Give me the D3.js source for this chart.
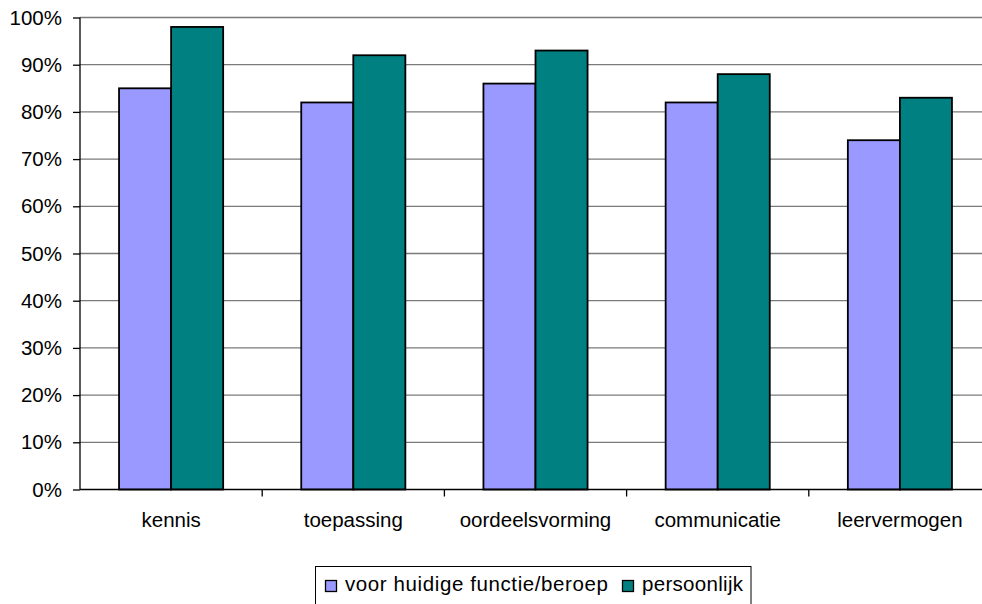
<!DOCTYPE html>
<html><head><meta charset="utf-8">
<script src="https://cdn.jsdelivr.net/npm/d3@7"></script>
<style>body{margin:0;background:#fff}svg{display:block}text{font-family:"Liberation Sans",Arial,sans-serif}</style>
</head><body>
<svg id="c" width="982" height="604"></svg>
<script>
const categories = ["kennis","toepassing","oordeelsvorming","communicatie","leervermogen"];
const seriesNames = ["voor huidige functie/beroep","persoonlijk"];
const huidig = [85,82,86,82,74];
const persoonlijk = [98,92,93,88,83];
const yTicks = [0,10,20,30,40,50,60,70,80,90,100];
const colors = ["#9999FF","#008080"];

(function(){
const FS = 20.5;
const svg = d3.select("#c");
const pLeft = 80, pRight = 991, pTop = 17.5, pBottom = 489.5;
const x = d3.scaleBand().domain(categories).range([pLeft,pRight]).paddingInner(0).paddingOuter(0);
const xs = d3.scaleBand().domain([0,1]).range([0,x.bandwidth()]).paddingInner(0).paddingOuter(0.75);
const y = d3.scaleLinear().domain([0,100]).range([pBottom,pTop]);

// gridlines
svg.append("g").selectAll("line").data(yTicks.filter(d=>d>0)).join("line")
  .attr("x1",pLeft).attr("x2",pRight).attr("y1",d=>y(d)).attr("y2",d=>y(d))
  .attr("stroke","#7a7a7a").attr("stroke-width",1.3);

// bars
const data = [huidig, persoonlijk];
const g = svg.append("g");
categories.forEach((c,i)=>{
  data.forEach((s,j)=>{
    g.append("rect").attr("x",x(c)+xs(j)).attr("y",y(s[i]))
     .attr("width",xs.bandwidth()).attr("height",pBottom-y(s[i]))
     .attr("fill",colors[j]).attr("stroke","#000").attr("stroke-width",1.8);
  });
});

// y axis
const ya = svg.append("g").attr("transform",`translate(${pLeft},0)`)
  .call(d3.axisLeft(y).tickValues(yTicks).tickFormat(d=>d+"%").tickSize(7).tickPadding(11));
ya.select(".domain").attr("stroke","#000").attr("stroke-width",1.3).attr("d",`M0,${pTop}V${pBottom}`);
ya.selectAll(".tick line").attr("stroke","#000").attr("stroke-width",1.3);
ya.selectAll("text").attr("font-size",FS).attr("fill","#000").attr("font-family","'Liberation Sans',Arial,sans-serif");

// x axis
const xa = svg.append("g").attr("transform",`translate(0,${pBottom})`)
  .call(d3.axisBottom(x).tickSize(0).tickPadding(23));
xa.select(".domain").attr("stroke","#000").attr("stroke-width",1.3).attr("d",`M${pLeft},0H${pRight}`);
xa.selectAll("text").attr("font-size",FS).attr("fill","#000").attr("font-family","'Liberation Sans',Arial,sans-serif");
// category separator ticks
svg.append("g").selectAll("line").data(categories.slice(1)).join("line")
  .attr("x1",d=>x(d)).attr("x2",d=>x(d)).attr("y1",pBottom).attr("y2",pBottom+7)
  .attr("stroke","#000").attr("stroke-width",1.3);

// legend
const lg = svg.append("g");
lg.append("rect").attr("x",315.5).attr("y",566.5).attr("width",435.5).attr("height",50)
  .attr("fill","#fff").attr("stroke","#000").attr("stroke-width",1);
const itemX = [325, 622];
seriesNames.forEach((n,j)=>{
  lg.append("rect").attr("x",itemX[j]+0.5).attr("y",580.5).attr("width",11).attr("height",11)
    .attr("fill",colors[j]).attr("stroke","#000").attr("stroke-width",1.3);
  lg.append("text").attr("x",itemX[j]+20).attr("y",591).attr("font-size",FS)
    .attr("letter-spacing", j===0 ? 0.6 : 0.3).attr("fill","#000").text(n);
});
})();
</script>
</body></html>
